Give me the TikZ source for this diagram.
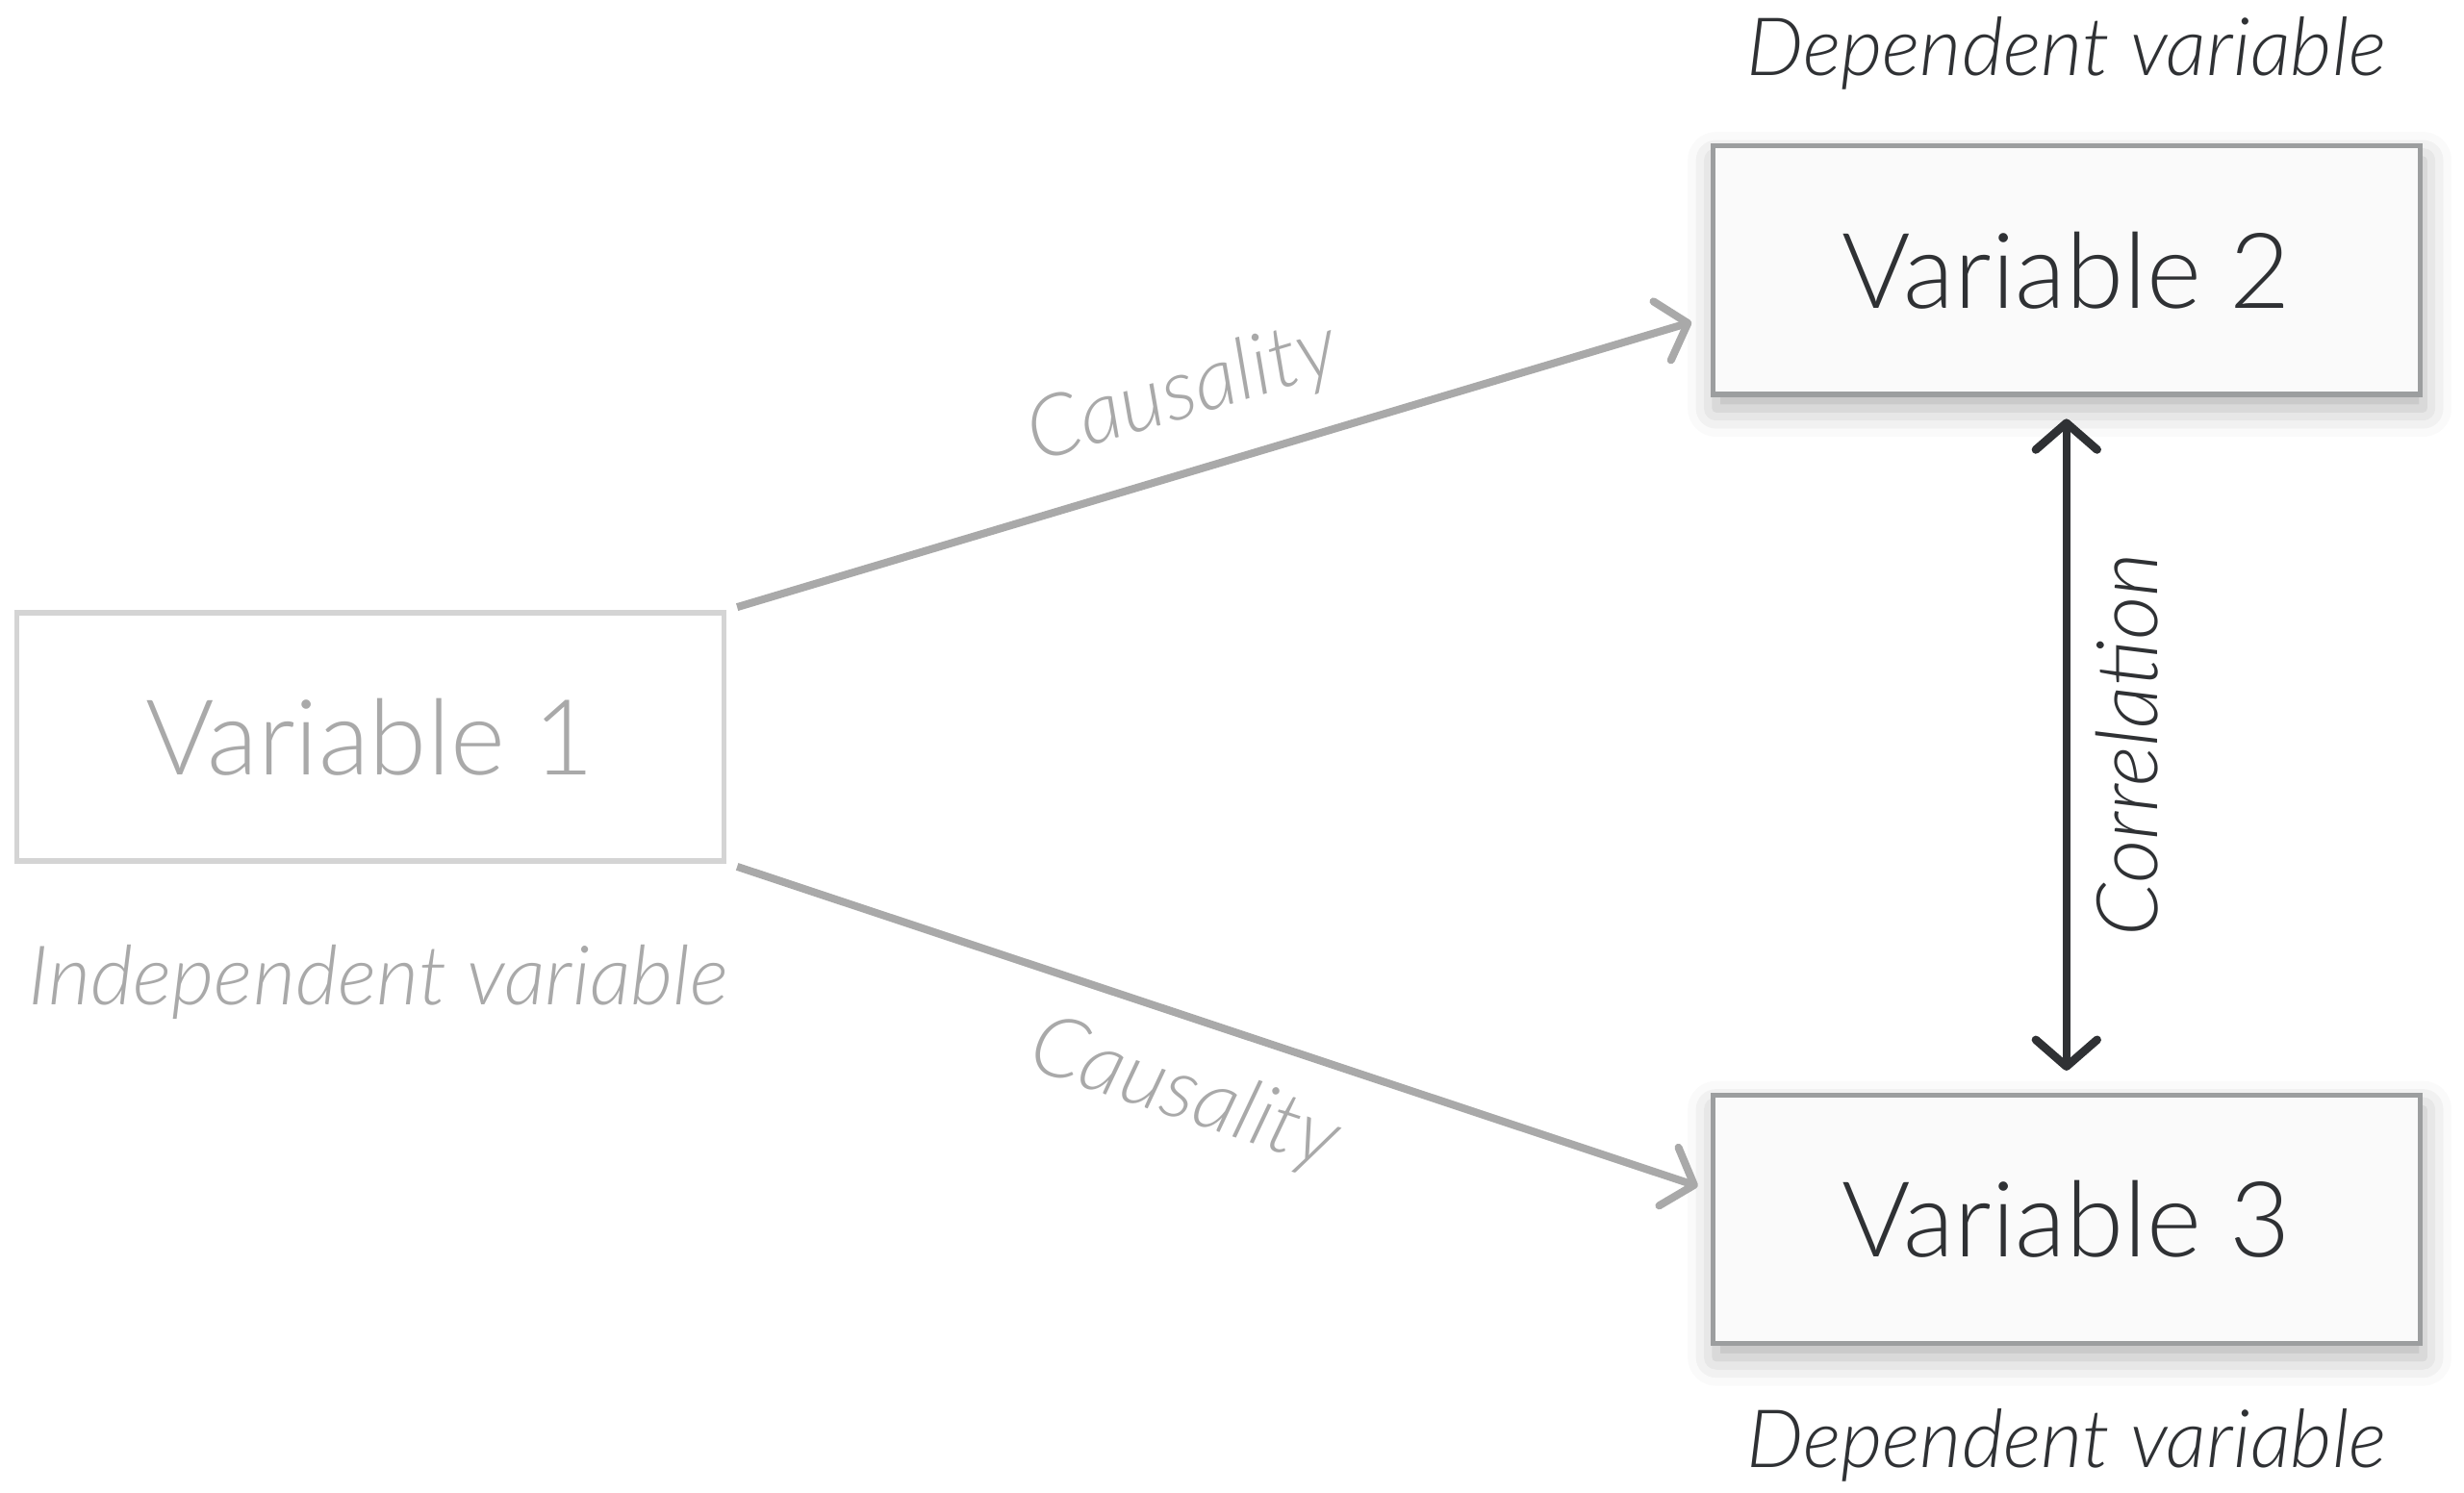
\documentclass[tikz,border=0pt]{standalone}
\usepackage{fontspec}
\setmainfont{Lato}[UprightFont={* Light},ItalicFont={* Light Italic}]
\usetikzlibrary{arrows.meta,shadows.blur}
\definecolor{ink}{HTML}{2F3134}
\definecolor{faded}{HTML}{A9A9A9}
\definecolor{edge}{HTML}{9C9E9F}

\begin{document}
\begin{tikzpicture}[>={Straight Barb[length=1.7mm,width=3.9mm,round]},
  box/.style={draw=edge,line width=0.9pt,fill=white!98!black,text=ink,
    minimum width=4.5cm,minimum height=1.58cm,font=\fontsize{19}{22}\selectfont,
    blur shadow={shadow xshift=0.02cm,shadow yshift=-0.09cm,shadow blur radius=0.18cm,shadow opacity=30}},
  palebox/.style={box,draw=faded!50,text=faded,fill=white,blur shadow={shadow opacity=0}},
  tag/.style={font=\fontsize{14.6}{17}\selectfont\itshape,text=ink},
  linktag/.style={tag,font=\fontsize{15.4}{18}\selectfont\itshape},
  causal/.style={->,draw=faded,line width=1.4pt},
  corr/.style={<->,draw=ink,line width=1.5pt}]
  \useasboundingbox (0,0) rectangle (15.68,9.50);
  % boxes
  \node[palebox] (v1) at (2.355,4.81) {Variable 1};
  \node[box] (v2) at (13.15,7.78) {Variable 2};
  \node[box] (v3) at (13.15,1.74) {Variable 3};
  % captions
  \node[tag] (d2) at (13.15,9.16) {Dependent variable};
  \node[tag] (d3) at (13.15,0.30) {Dependent variable};
  \node[tag,text=faded,font=\fontsize{14.9}{18}\selectfont\itshape] (i1) at (2.41,3.25) {Independent variable};
  % links
  \draw[causal] ([shift={(0.07,0.02)}]v1.north east) -- ([shift={(-0.12,-0.33)}]v2.west)
    node[pos=0.49,sloped,above=0.1cm,linktag,text=faded] {Causality};
  \draw[causal] ([shift={(0.07,-0.02)}]v1.south east) -- ([shift={(-0.08,0.21)}]v3.west)
    node[pos=0.49,sloped,below=0.1cm,linktag,text=faded] {Causality};
  \draw[corr,shorten <=0.14cm,shorten >=0.14cm] (v2.south) -- (v3.north)
    node[midway,rotate=90,anchor=north,inner sep=0.16cm,linktag] {Correlation};
\end{tikzpicture}
\end{document}
